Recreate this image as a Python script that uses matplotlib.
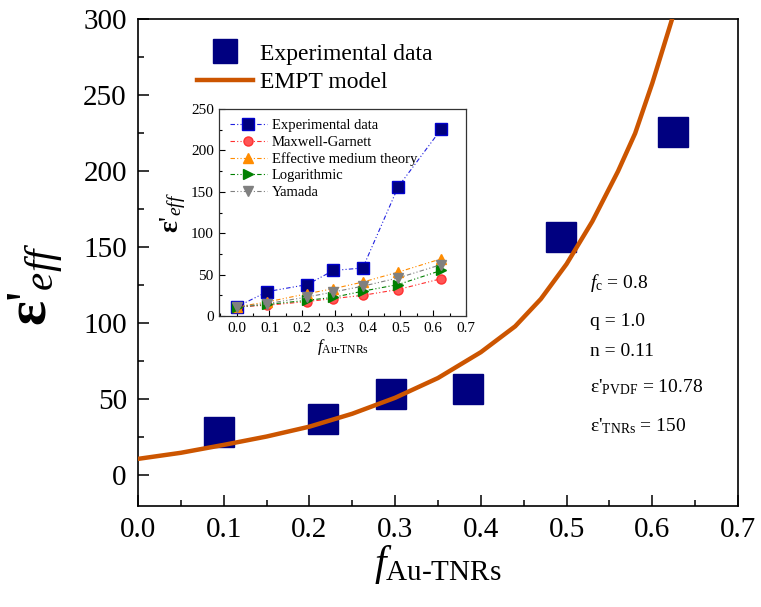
import matplotlib
matplotlib.use("Agg")
import matplotlib.pyplot as plt
from matplotlib.ticker import MultipleLocator

plt.rcParams["font.family"] = ["Liberation Serif", "DejaVu Serif"]
plt.rcParams["mathtext.fontset"] = "custom"
plt.rcParams["mathtext.rm"] = "Liberation Serif"
plt.rcParams["mathtext.it"] = "Liberation Serif:italic"
plt.rcParams["mathtext.bf"] = "Liberation Serif:bold"

# main panel: measured points
exp_f = [0.094, 0.216, 0.295, 0.385, 0.493, 0.624]
exp_eps = [28.5, 37, 53.5, 57, 156.5, 226]

# EMPT model curve
empt_f = [0.0, 0.05, 0.10, 0.15, 0.20, 0.25, 0.30, 0.35, 0.40, 0.44, 0.47,
          0.50, 0.53, 0.56, 0.58, 0.60, 0.623]
empt_eps = [10.8, 14.8, 20.0, 25.5, 32.0, 40.5, 51.0, 64.0, 81.0, 98.0, 116.0,
            139.0, 167.0, 200.0, 225.0, 258.0, 300.0]

# inset: comparison with classic models
ins_f = [0.0, 0.094, 0.216, 0.295, 0.385, 0.493, 0.624]
ins_exp = [11, 29.5, 38, 55, 58, 156, 225.5]
ins_mg = [11, 13, 17.5, 21, 25, 32, 45]
ins_emt = [11, 17, 27, 33, 41, 53, 69]
ins_log = [11, 14, 19, 22.5, 30, 38, 55]
ins_yam = [11, 15, 23, 29, 36, 46, 62]

fig = plt.figure(figsize=(7.61, 6.07), dpi=100)
ax = fig.add_axes([0.1813, 0.1669, 0.7885, 0.8013])

ax.plot(exp_f, exp_eps, "s", color="#000080", markersize=22, label="Experimental data",
        zorder=3)
ax.plot(empt_f, empt_eps, "-", color="#CC5500", linewidth=3.2, label="EMPT model", zorder=4)

ax.set_xlim(0, 0.7)
ax.set_ylim(-20, 300)
ax.xaxis.set_major_locator(MultipleLocator(0.1))
ax.xaxis.set_minor_locator(MultipleLocator(0.05))
ax.yaxis.set_major_locator(MultipleLocator(50))
ax.yaxis.set_minor_locator(MultipleLocator(25))
ax.xaxis.set_major_formatter(plt.FuncFormatter(lambda v, p: f"{v:.1f}"))
ax.tick_params(which="both", direction="in", top=False, right=False, labelsize=21, width=1.1)
ax.tick_params(which="major", length=8, pad=8)
ax.tick_params(which="minor", length=4.5)
for s in ax.spines.values():
    s.set_linewidth(1.2)

ax.set_xlabel(r"$f_{\mathrm{Au\text{-}TNRs}}$", fontsize=30, labelpad=0)
ax.set_ylabel(r"$\mathbf{\varepsilon}$'$_{\mathit{eff}}$", fontsize=42)
ax.yaxis.set_label_coords(-0.12, 0.455)

ax.legend(loc="upper left", bbox_to_anchor=(0.07, 0.985), frameon=False, fontsize=17,
          markerscale=0.8, handlelength=2.4, handletextpad=0.3, labelspacing=0.3,
          borderaxespad=0.3)

params = [r"$f_{\mathrm{c}}$ = 0.8", "q = 1.0", "n = 0.11",
          r"ε'$_{\mathrm{PVDF}}$ = 10.78", r"ε'$_{\mathrm{TNRs}}$ = 150"]
param_y = [283, 322, 351, 387, 426]
for txt, py in zip(params, param_y):
    fig.text(590 / 761, 1 - py / 607, txt, fontsize=14, va="center", ha="left")

# inset
ins = fig.add_axes([0.2882, 0.4794, 0.3241, 0.3410])
ins.plot(ins_f, ins_exp, "-.", color="#2020E0", linewidth=0.8, dashes=(4, 2, 1, 2, 1, 2),
         marker="s", markersize=9, markerfacecolor="#000080", markeredgecolor="#0000CD",
         label="Experimental data")
ins.plot(ins_f, ins_mg, color="#FF3030", linewidth=0.8, dashes=(4, 2, 1, 2, 1, 2),
         marker="o", markersize=6.5, markerfacecolor="#FF5555", markeredgecolor="#FF3030",
         label="Maxwell-Garnett")
ins.plot(ins_f, ins_emt, color="#FF8C00", linewidth=0.8, dashes=(4, 2, 1, 2, 1, 2),
         marker="^", markersize=7.5, markerfacecolor="#FF8C00", markeredgecolor="#FF8C00",
         label="Effective medium theory")
ins.plot(ins_f, ins_log, color="#008000", linewidth=0.8, dashes=(4, 2, 1, 2, 1, 2),
         marker=">", markersize=7.5, markerfacecolor="#008000", markeredgecolor="#008000",
         label="Logarithmic")
ins.plot(ins_f, ins_yam, color="#808080", linewidth=0.8, dashes=(4, 2, 1, 2, 1, 2),
         marker="v", markersize=7.5, markerfacecolor="#808080", markeredgecolor="#808080",
         label="Yamada")

ins.set_xlim(-0.053, 0.7)
ins.set_ylim(0, 250)
ins.xaxis.set_major_locator(MultipleLocator(0.1))
ins.xaxis.set_minor_locator(MultipleLocator(0.05))
ins.yaxis.set_major_locator(MultipleLocator(50))
ins.yaxis.set_minor_locator(MultipleLocator(25))
ins.xaxis.set_major_formatter(plt.FuncFormatter(lambda v, p: f"{v:.1f}"))
ins.tick_params(which="both", direction="in", top=False, right=False, labelsize=11, width=0.8)
ins.tick_params(which="major", length=4, pad=4)
ins.tick_params(which="minor", length=2)
for s in ins.spines.values():
    s.set_linewidth(0.9)
    s.set_color("#333333")
ins.set_xlabel(r"$f_{\mathrm{Au\text{-}TNRs}}$", fontsize=12, labelpad=2)
ins.set_ylabel(r"$\mathbf{\varepsilon}$'$_{\mathit{eff}}$", fontsize=20, labelpad=2)
ins.legend(loc="upper left", frameon=False, fontsize=10.5, handlelength=2.6,
           handletextpad=0.3, labelspacing=0.22, borderaxespad=0.3)

fig.savefig("out.png", dpi=100)
